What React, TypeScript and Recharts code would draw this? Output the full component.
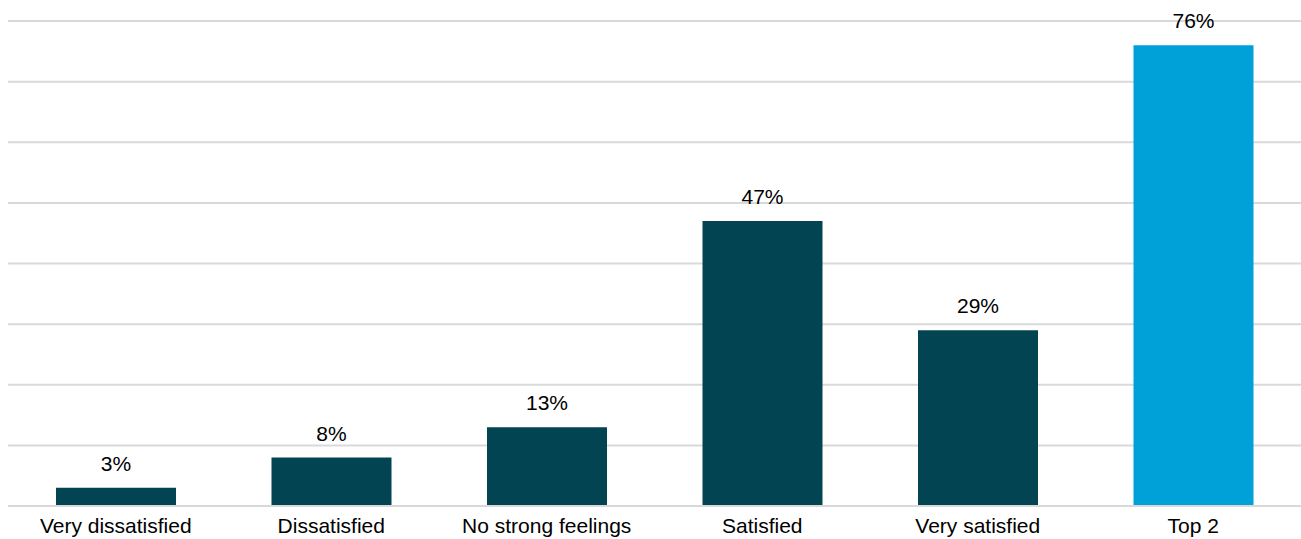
import { BarChart, Bar, XAxis, YAxis, CartesianGrid, LabelList, Cell } from 'recharts';

const categories = ['Very dissatisfied', 'Dissatisfied', 'No strong feelings', 'Satisfied', 'Very satisfied', 'Top 2'];
const shares = [3, 8, 13, 47, 29, 76];
const yTicks = [0, 10, 20, 30, 40, 50, 60, 70, 80];

const DARK = '#024452';
const HIGHLIGHT = '#00A0D8';

const data = categories.map((name, i) => ({ name, value: shares[i] }));

const App = () => {
    return (
        <div style={{ position: 'absolute', left: 8, top: 8, fontFamily: '"Liberation Sans", Arial, sans-serif' }}>
            <BarChart width={1293} height={531} data={data} margin={{ top: 13, right: 0, bottom: 0, left: 0 }}>
                <CartesianGrid vertical={false} stroke="#d9d9d9" strokeWidth={2} />
                <XAxis
                    dataKey="name"
                    axisLine={{ stroke: '#d9d9d9', strokeWidth: 2 }}
                    tickLine={false}
                    tickMargin={6}
                    height={33}
                    interval={0}
                    tick={{ fill: '#000', fontSize: 21 }}
                />
                <YAxis hide domain={[0, 80]} ticks={yTicks} />
                <Bar dataKey="value" barSize={120} isAnimationActive={false}>
                    {data.map((d, i) => (
                        <Cell key={d.name} fill={i === data.length - 1 ? HIGHLIGHT : DARK} />
                    ))}
                    <LabelList
                        dataKey="value"
                        position="top"
                        offset={17}
                        formatter={(v: number) => `${v}%`}
                        style={{ fill: '#000', fontSize: 21 }}
                    />
                </Bar>
            </BarChart>
        </div>
    );
};

export default App;
